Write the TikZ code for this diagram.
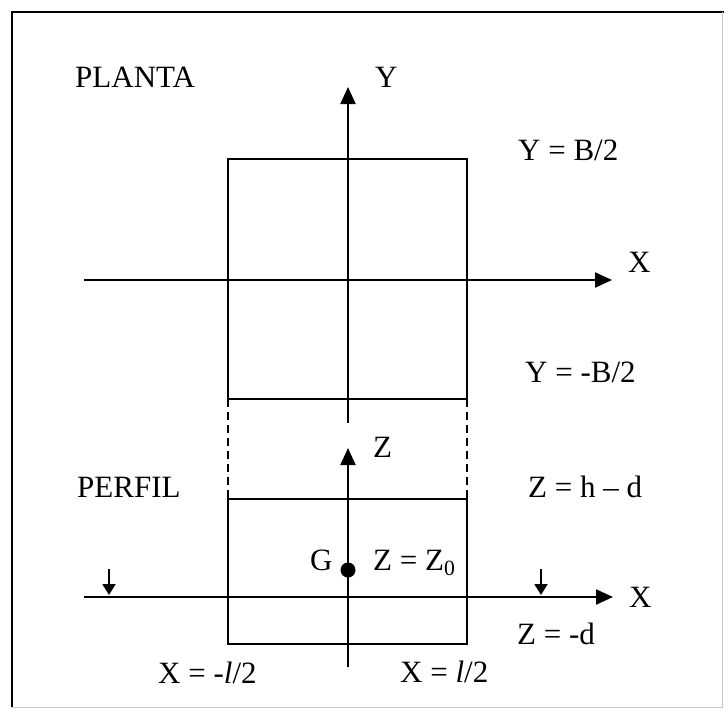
\documentclass[tikz,border=0pt]{standalone}
\usepackage{fontspec}
\setmainfont{Liberation Serif}
\usetikzlibrary{arrows.meta}
\begin{document}
\begin{tikzpicture}[x=1pt,y=-1pt,
  lbl/.style={anchor=base west,inner sep=0pt,font=\fontsize{31}{36}\selectfont},
  axis/.style={line width=2.2pt,-{Triangle[length=17pt,width=15pt]}},
  boxline/.style={line width=2pt},
  dashline/.style={line width=2pt,dash pattern=on 8pt off 5pt},
  smallarrow/.style={line width=1.8pt,-{Triangle[length=11pt,width=13pt]}}]
\useasboundingbox (0,0) rectangle (724,710);
% frame
\draw[line width=2pt] (12,707) -- (12,12) -- (724,12);
\draw[line width=1pt,gray!45] (722,12) -- (722,707) -- (12,707);
% coordinates
\coordinate (ybot) at (348,423);
\coordinate (ytip) at (348,87);
\coordinate (x1s) at (84,280);
\coordinate (x1t) at (612,280);
\coordinate (b1a) at (228,159);
\coordinate (b1b) at (467,399);
\coordinate (b2a) at (228,499);
\coordinate (b2b) at (467,644);
\coordinate (zbot) at (348,667);
\coordinate (ztip) at (348,448);
\coordinate (x2s) at (84,597);
\coordinate (x2t) at (613,597);
\coordinate (sa1) at (109,569);
\coordinate (sa1t) at (109,595);
\coordinate (sa2) at (541,569);
\coordinate (sa2t) at (541,595);
% plan
\draw[boxline] (b1a) rectangle (b1b);
\draw[axis] (x1s) -- (x1t);
\draw[axis] (ybot) -- (ytip);
% dashed links
\draw[dashline] (b1a |- b1b) -- (b1a |- b2a);
\draw[dashline] (b1b) -- (b1b |- b2a);
% profile
\draw[boxline] (b2a) rectangle (b2b);
\draw[axis] (x2s) -- (x2t);
\draw[axis] (zbot) -- (ztip);
\draw[smallarrow] (sa1) -- (sa1t);
\draw[smallarrow] (sa2) -- (sa2t);
\fill (348,570) circle (7.5pt) coordinate (gdot);
% labels
\node[lbl] (planta) at (75,87) {PLANTA};
\node[lbl] (ylab) at (375,87) {Y};
\node[lbl] (yb2) at (518,160) {Y = B/2};
\node[lbl] (x1lab) at (628,272) {X};
\node[lbl] (ymb2) at (525,382) {Y = -B/2};
\node[lbl] (zlab) at (373,457) {Z};
\node[lbl] (perfil) at (77,497) {PERFIL};
\node[lbl] (zhd) at (528,497) {Z = h – d};
\node[lbl] (glab) at (310,570) {G};
\node[lbl] (zz0) at (373,570) {Z = Z\textsubscript{0}};
\node[lbl] (x2lab) at (629,607) {X};
\node[lbl] (zmd) at (517,644) {Z = -d};
\node[lbl] (xml) at (158,683) {X = -\textit{l}/2};
\node[lbl] (xpl) at (400,682) {X = \textit{l}/2};
\end{tikzpicture}
\end{document}
